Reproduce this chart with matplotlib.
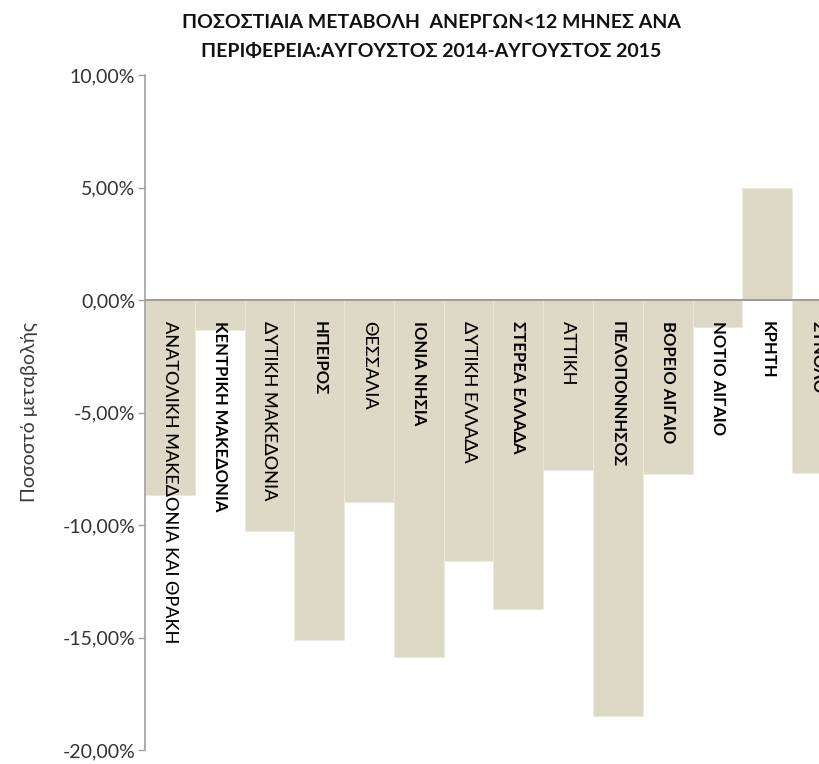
import numpy as np
import matplotlib
matplotlib.use("Agg")
import matplotlib.pyplot as plt
from matplotlib.ticker import FuncFormatter

regions = ["ΑΝΑΤΟΛΙΚΗ ΜΑΚΕΔΟΝΙΑ ΚΑΙ ΘΡΑΚΗ", "ΚΕΝΤΡΙΚΗ ΜΑΚΕΔΟΝΙΑ", "ΔΥΤΙΚΗ ΜΑΚΕΔΟΝΙΑ",
           "ΗΠΕΙΡΟΣ", "ΘΕΣΣΑΛΙΑ", "ΙΟΝΙΑ ΝΗΣΙΑ", "ΔΥΤΙΚΗ ΕΛΛΑΔΑ", "ΣΤΕΡΕΑ ΕΛΛΑΔΑ",
           "ΑΤΤΙΚΗ", "ΠΕΛΟΠΟΝΝΗΣΟΣ", "ΒΟΡΕΙΟ ΑΙΓΑΙΟ", "ΝΟΤΙΟ ΑΙΓΑΙΟ", "ΚΡΗΤΗ", "ΣΥΝΟΛΟ"]
change = [-8.67, -1.33, -10.25, -15.10, -8.96, -15.85, -11.60, -13.75,
          -7.56, -18.47, -7.75, -1.19, 5.00, -7.67]
yticks = [-20, -15, -10, -5, 0, 5, 10]

title = "ΠΟΣΟΣΤΙΑΙΑ ΜΕΤΑΒΟΛΗ  ΑΝΕΡΓΩΝ<12 ΜΗΝΕΣ ΑΝΑ\nΠΕΡΙΦΕΡΕΙΑ:ΑΥΓΟΥΣΤΟΣ 2014-ΑΥΓΟΥΣΤΟΣ 2015"
ylabel = "Ποσοστό μεταβολής"

# in the original these labels are in the light, spaced style, the rest are bold
light_labels = {"ΑΝΑΤΟΛΙΚΗ ΜΑΚΕΔΟΝΙΑ ΚΑΙ ΘΡΑΚΗ", "ΔΥΤΙΚΗ ΜΑΚΕΔΟΝΙΑ", "ΘΕΣΣΑΛΙΑ",
                "ΔΥΤΙΚΗ ΕΛΛΑΔΑ", "ΑΤΤΙΚΗ"}

plt.rcParams['font.family'] = ["Lato", "DejaVu Sans"]

fig = plt.figure(figsize=(8.19, 7.64), dpi=100)
# axes runs past the right edge, the last bar is cut like in the original
ax = fig.add_axes([145 / 819, 14 / 764, 697 / 819, 675 / 764])

x = np.arange(len(regions))
ax.bar(x, change, width=1.0, color="#DDD9C4", edgecolor="#ECEADF", linewidth=0.6)
ax.set_xlim(-0.5, len(regions) - 0.5)
ax.set_ylim(-20, 10)

ax.axhline(0, color="#9A9A9A", lw=1.4, zorder=3)
for s in ["top", "right", "bottom"]:
    ax.spines[s].set_visible(False)
ax.spines["left"].set_color("#A0A0A0")
ax.spines["left"].set_linewidth(1.2)

ax.set_xticks([])
ax.set_yticks(yticks)
ax.yaxis.set_major_formatter(FuncFormatter(lambda v, p: f"{v:.2f}%".replace(".", ",")))
ax.tick_params(axis="y", length=5, width=1, color="#A0A0A0", labelsize=14,
               labelcolor="#333333", pad=2)

for i, name in enumerate(regions):
    if name in light_labels:
        ax.text(i, -0.95, name, rotation=270, ha="center", va="top",
                fontsize=13, fontweight="medium", color="black", zorder=4)
    else:
        ax.text(i, -0.95, name, rotation=270, ha="center", va="top",
                fontsize=12, fontweight="bold", color="black", zorder=4)

ax.set_ylabel(ylabel, fontsize=14, color="#3A3A3A", labelpad=18)

fig.text(0.527, 0.951, title, ha="center", va="center", fontsize=14,
         fontweight="bold", linespacing=1.85, color="#111111")

fig.savefig("out.png", dpi=100)
